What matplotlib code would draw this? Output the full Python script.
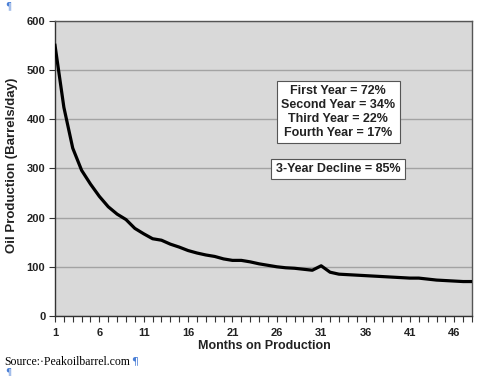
import matplotlib
matplotlib.use("Agg")
import matplotlib.pyplot as plt
from matplotlib.ticker import MultipleLocator, FixedLocator

months = list(range(1, 49))
production = [550, 424, 341, 296, 268, 243, 222, 207, 196, 178, 167, 157, 154, 146, 140,
              133, 128, 124, 121, 116, 113, 113, 110, 106, 103, 100, 98, 97, 95, 93,
              102, 89, 85, 84, 83, 82, 81, 80, 79, 78, 77, 77, 75, 73, 72, 71, 70, 70]
xtick_labels = [1, 6, 11, 16, 21, 26, 31, 36, 41, 46]
yticks = [0, 100, 200, 300, 400, 500, 600]
box1_lines = ["First Year = 72%", "Second Year = 34%", "Third Year = 22%", "Fourth Year = 17%"]
box2_text = "3-Year Decline = 85%"

plt.rcParams['font.family'] = ['Liberation Sans', 'DejaVu Sans']

fig = plt.figure(figsize=(5.02, 3.76), dpi=100)
ax = fig.add_axes([55/502, 1-316/376, (472-55)/502, (316-20.7)/376])
ax.set_facecolor('#d9d9d9')

ax.plot(months, production, color='black', lw=2.3, solid_joinstyle='round', zorder=3)

ax.set_xlim(1, 48)
ax.set_ylim(0, 600)
ax.set_yticks(yticks)
ax.yaxis.grid(True, color='#a3a3a3', lw=1.0)
ax.set_axisbelow(True)
ax.xaxis.set_major_locator(FixedLocator(xtick_labels))
ax.xaxis.set_minor_locator(MultipleLocator(1))
ax.tick_params(axis='x', which='major', length=4, width=0.8, color='#333333', direction='out', pad=5)
ax.tick_params(axis='x', which='minor', length=4, width=0.8, color='#333333', direction='out')
ax.tick_params(axis='y', which='major', length=4, width=0.8, color='#333333', direction='out', pad=3)
for lab in ax.get_xticklabels() + ax.get_yticklabels():
    lab.set_fontweight('bold')
    lab.set_fontsize(8)
    lab.set_color('#222222')
for s in ['left', 'bottom']:
    ax.spines[s].set_color('#333333')
    ax.spines[s].set_linewidth(1.0)
for s in ['top', 'right']:
    ax.spines[s].set_color('#555555')
    ax.spines[s].set_linewidth(1.0)

ax.set_xlabel("Months on Production", fontsize=9, fontweight='bold', color='#222222')
ax.xaxis.set_label_coords((264 - 55) / 417, -(346 - 316) / 295.3)
ax.xaxis.label.set_va('center')
ax.set_ylabel("Oil Production (Barrels/day)", fontsize=9.5, fontweight='bold', color='#222222')
ax.yaxis.set_label_coords((12 - 55) / 417, (316 - 165) / 295.3)
ax.yaxis.label.set_va('center')

ax.text(0.679, 0.691, "\n".join(box1_lines), transform=ax.transAxes, ha='center', va='center',
        fontsize=9, fontweight='bold', color='#222222', linespacing=1.2,
        bbox=dict(boxstyle='square,pad=0.35', fc='white', ec='#555555', lw=0.8))
ax.text(0.679, 0.498, box2_text, transform=ax.transAxes, ha='center', va='center',
        fontsize=9, fontweight='bold', color='#222222',
        bbox=dict(boxstyle='square,pad=0.35', fc='white', ec='#555555', lw=0.8))

fig.text(4/502, 1-362/376, "Source:\u00b7Peakoilbarrel.com", fontsize=8.5, family='Liberation Serif',
         color='black', ha='left', va='center')
fig.text(131/502, 1-361/376, "\u00b6", fontsize=8, color='#4a7fd6', ha='left', va='center', family='DejaVu Sans')
fig.text(5/502, 1-6/376, "\u00b6", fontsize=7, color='#4a7fd6', ha='left', va='center', family='DejaVu Sans')
fig.text(5/502, 1-372/376, "\u00b6", fontsize=7, color='#4a7fd6', ha='left', va='center', family='DejaVu Sans')

fig.savefig("out.png", dpi=100, facecolor='white')
